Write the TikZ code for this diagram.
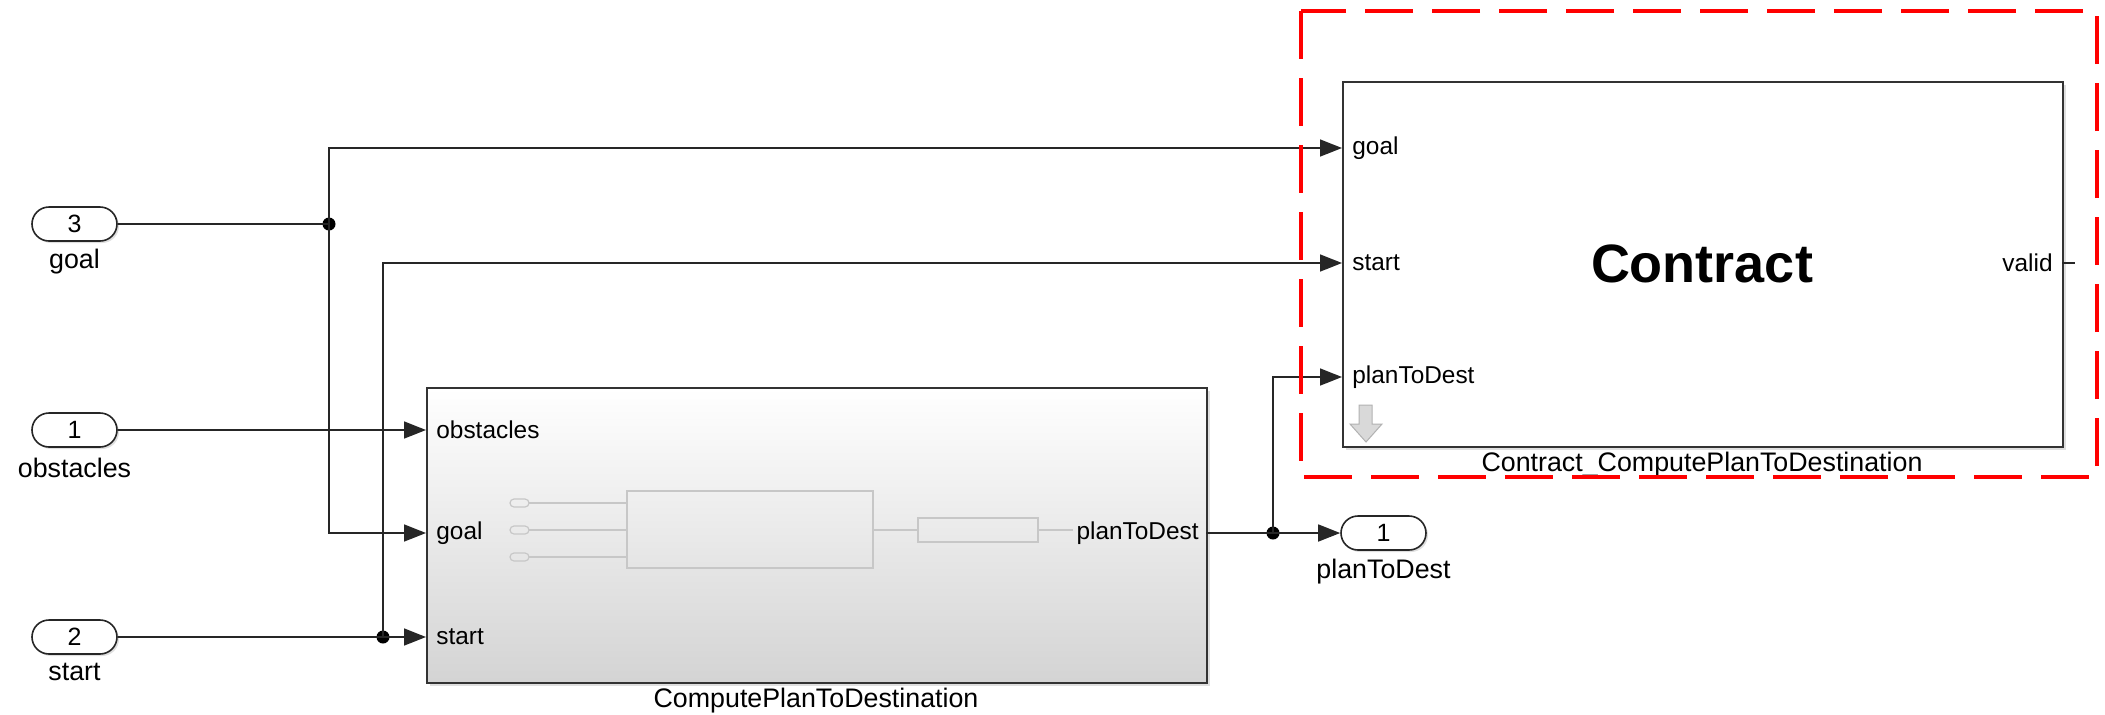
\documentclass[tikz,border=0pt]{standalone}
\usepackage{fontspec}
\setmainfont{Liberation Sans}
\usetikzlibrary{arrows.meta,shadows}

\tikzset{
  signal/.style={draw=black!85, line width=0.8pt},
  sigarrow/.style={signal, -{Triangle[length=11pt,width=8.5pt]}},
  junction/.style={circle, fill=black, inner sep=0pt, minimum size=6.5pt},
  inport/.style={draw=black!85, line width=0.8pt, rounded corners=8.5pt, fill=white,
    minimum width=42.5pt, minimum height=17pt, inner sep=0pt,
    font=\fontsize{12.5}{13}\selectfont,
    drop shadow={shadow xshift=1pt, shadow yshift=-1pt, opacity=.25}},
  iolabel/.style={inner sep=0pt, font=\fontsize{13.4}{14}\selectfont},
  portin/.style={anchor=west, inner xsep=5pt, inner ysep=0pt, font=\fontsize{12.2}{13}\selectfont},
  portout/.style={anchor=east, inner xsep=3.5pt, inner ysep=0pt, font=\fontsize{12.2}{13}\selectfont},
  subsys/.style={draw=black!80, line width=1pt, anchor=north west, inner sep=0pt,
    drop shadow={shadow xshift=1.5pt, shadow yshift=-1.5pt, opacity=.25}},
  faint/.style={draw=black!22, line width=0.6pt},
}

\begin{document}
\begin{tikzpicture}[x=0.5pt,y=-0.5pt]
  \useasboundingbox (0,0) rectangle (2105,714);

  % subsystem blocks
  \node[subsys, minimum width=390pt, minimum height=147.5pt,
        top color=white, middle color=black!3, bottom color=black!17] (compute) at (426,387) {};
  \node[iolabel] (computelbl) at (816,701) {ComputePlanToDestination};
  \node[subsys, fill=white, minimum width=360pt, minimum height=182.5pt] (contract) at (1342,81) {};
  \node[iolabel] (contractlbl) at (1702,465) {Contract\_ComputePlanToDestination};
  \node[font=\fontsize{27}{28}\selectfont\bfseries] (contracttxt) at (1702,264) {Contract};

  % faint contents of the compute block
  \foreach \y in {503,530,557} {
    \draw[faint, rounded corners=2pt] (510,\y-4) rectangle (529,\y+4);
    \draw[faint] (529,\y) -- (627,\y);
  }
  \draw[faint] (627,491) rectangle (873,568);
  \draw[faint] (873,530) -- (918,530);
  \draw[faint] (918,518) rectangle (1038,542);
  \coordinate (innerout) at (1073,530);
  \draw[faint] (1038,530) -- (innerout);

  % ports of the compute block
  \node[portin] (pobst) at (426,430) {obstacles};
  \node[portin] (pgoal) at (426,533) {goal};
  \node[portin] (pstart) at (426,637) {start};
  \node[portout] (pplan) at (1206,533) {planToDest};

  % ports of the contract block
  \node[portin] (cgoal) at (1342,148) {goal};
  \node[portin] (cstart) at (1342,263) {start};
  \node[portin] (cplan) at (1342,377) {planToDest};
  \node[portout, inner xsep=4.5pt] (cvalid) at (2062,263) {valid};
  \coordinate (cvalidend) at (2075,263);
  \draw[signal] (cvalid.east) -- (cvalidend);

  % down arrow icon
  \draw[draw=black!30, fill=black!15, line width=0.5pt]
    (1359,405) -- (1372,405) -- (1372,424) -- (1382,424) -- (1366,442)
    -- (1350,424) -- (1359,424) -- cycle;

  % inports and outport
  \node[inport] (in3) at (74.5,224) {3};
  \node[iolabel] (in3lbl) at (74.5,262) {goal};
  \node[inport] (in1) at (74.5,430) {1};
  \node[iolabel] (in1lbl) at (74.5,468) {obstacles};
  \node[inport] (in2) at (74.5,637) {2};
  \node[iolabel] (in2lbl) at (74.5,672) {start};
  \node[inport] (out1) at (1383.5,533) {1};
  \node[iolabel] (out1lbl) at (1383.5,572) {planToDest};

  % junctions
  \node[junction] (j1) at (329,224) {};
  \node[junction] (j2) at (383,637) {};
  \node[junction] (j3) at (1273,533) {};

  % signals
  \draw[signal] (in3.east) -- (j1.center);
  \draw[sigarrow] (j1.center) |- (cgoal.west);
  \draw[sigarrow] (j1.center) |- (pgoal.west);
  \draw[sigarrow] (in1.east) -- (pobst.west);
  \draw[signal] (in2.east) -- (j2.center);
  \draw[sigarrow] (j2.center) -- (pstart.west);
  \draw[sigarrow] (j2.center) |- (cstart.west);
  \draw[signal] (pplan.east) -- (j3.center);
  \draw[sigarrow] (j3.center) -- (out1.west);
  \draw[sigarrow] (j3.center) |- (cplan.west);

  % highlight frame
  \draw[red, line width=2pt, dash pattern=on 24pt off 9.5pt] (1301,11) rectangle (2097,477);
\end{tikzpicture}
\end{document}
